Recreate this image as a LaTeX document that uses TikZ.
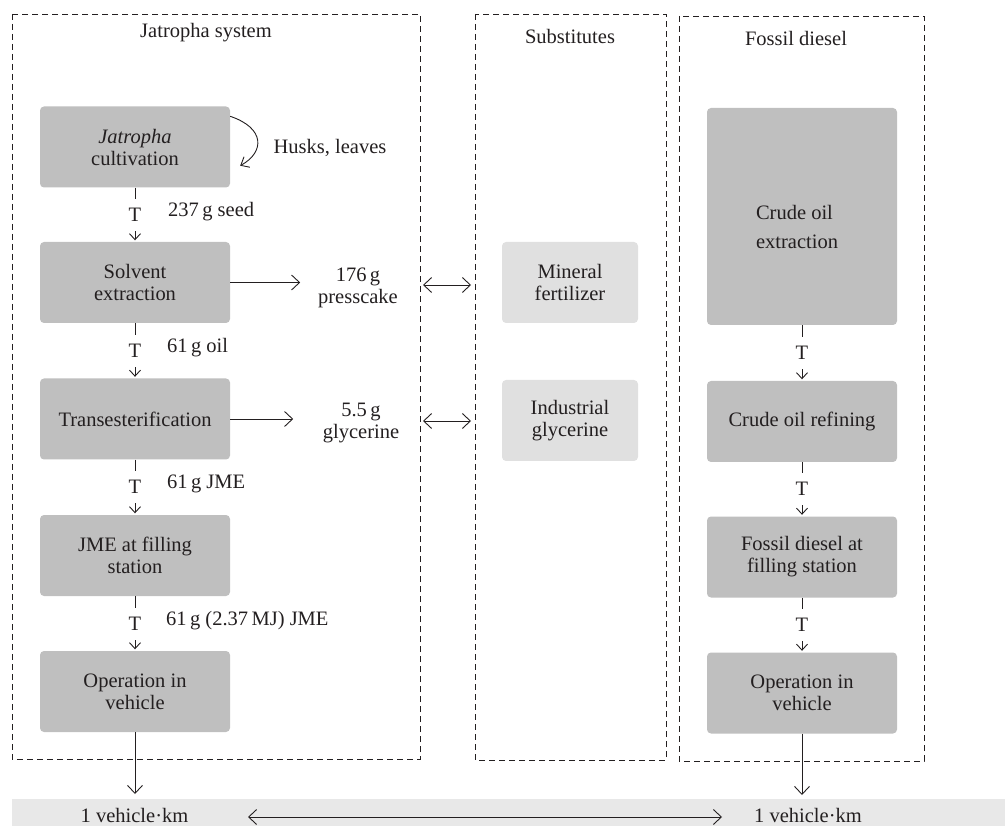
\documentclass[tikz,border=0pt]{standalone}
\usepackage{fontspec}
\setmainfont{Liberation Serif}
\usetikzlibrary{arrows.meta}
\definecolor{boxgray}{RGB}{191,191,191}
\definecolor{lightbox}{RGB}{224,224,224}
\definecolor{bandgray}{RGB}{232,232,232}
\definecolor{ink}{RGB}{35,31,32}
\begin{document}
\begin{tikzpicture}[x=1pt,y=-1pt,
  font=\fontsize{20.5}{22}\selectfont,
  every node/.style={text=ink},
  procbox/.style={fill=boxgray,rounded corners=4pt,minimum width=190pt,minimum height=81pt,align=center,inner sep=2pt},
  subbox/.style={fill=lightbox,rounded corners=4pt,minimum width=136pt,minimum height=81pt,align=center,inner sep=2pt},
  frame/.style={draw=ink,line width=0.9pt,dash pattern=on 6pt off 4pt},
  tflow/.style={draw=ink,line width=0.9pt,-{Straight Barb[length=6pt,width=11pt,line width=0.9pt]},shorten >=1.5pt},
  tlab/.style={fill=white,inner sep=0pt,minimum height=32pt,minimum width=14pt},
  bigarrow/.style={draw=ink,line width=0.9pt,-{Straight Barb[length=8pt,width=15pt,line width=0.9pt]}},
  dblarrow/.style={draw=ink,line width=0.9pt,{Straight Barb[length=8pt,width=15pt,line width=0.9pt]}-{Straight Barb[length=8pt,width=15pt,line width=0.9pt]}},
  flowlab/.style={anchor=west,inner sep=0pt}
]
\useasboundingbox (0,0) rectangle (1005,826);
% bottom band
\fill[bandgray] (12,799) rectangle (1005,826);
% dashed frames
\draw[frame] (12,14) rectangle (420,759);
\draw[frame] (475,14) rectangle (666,760);
\draw[frame] (679,16) rectangle (924,761);
% titles
\node (t1) at (206,33) {Jatropha system};
\node (t2) at (570,36) {Substitutes};
\node (t3) at (796,38) {Fossil diesel};
% Jatropha column
\node[procbox] (cult) at (135,147) {\textit{Jatropha}\\cultivation};
\node[procbox] (solv) at (135,282.5) {Solvent\\extraction};
\node[procbox] (trans) at (135,419) {Transesterification};
\node[procbox] (jme) at (135,555.5) {JME at filling\\station};
\node[procbox] (op1) at (135,691.5) {Operation in\\vehicle};
% substitutes
\node[subbox] (minf) at (570,282.5) {Mineral\\fertilizer};
\node[subbox] (indg) at (570,420.5) {Industrial\\glycerine};
% fossil column
\node[procbox,minimum height=217pt] (ext) at (802,216.5) {};
\node[align=left,inner sep=0pt] (extT) at ([xshift=-5pt,yshift=-10pt]ext.center) {Crude oil\\[7pt]extraction};
\node[procbox] (ref) at (802,421.5) {Crude oil refining};
\node[procbox] (fil) at (802,557) {Fossil diesel at\\filling station};
\node[procbox] (op2) at (802,693) {Operation in\\vehicle};
% T flows
\draw[tflow] (cult.south) -- node[tlab] (tA) {T} (solv.north);
\draw[tflow] (solv.south) -- node[tlab] (tB) {T} (trans.north);
\draw[tflow] (trans.south) -- node[tlab] (tC) {T} (jme.north);
\draw[tflow] (jme.south) -- node[tlab] (tD) {T} (op1.north);
\draw[tflow] (ext.south) -- node[tlab] (tE) {T} (ref.north);
\draw[tflow] (ref.south) -- node[tlab] (tF) {T} (fil.north);
\draw[tflow] (fil.south) -- node[tlab] (tG) {T} (op2.north);
% flow labels
\node[flowlab] (l1) at (168,212) {237\,g seed};
\node[flowlab] (l2) at (167,348) {61\,g oil};
\node[flowlab] (l3) at (167,484) {61\,g JME};
\node[flowlab] (l4) at (166,621) {61\,g (2.37\,MJ) JME};
% husks loop
\coordinate (hs) at ([yshift=-10pt]cult.north east);
\coordinate (he) at ([xshift=10pt,yshift=22pt]cult.south east);
\draw[draw=ink,line width=0.9pt,-{Straight Barb[length=7pt,width=12pt,line width=0.9pt]}] (hs) .. controls (265,128) and (265,152) .. (he);
\node (husk) at (330,148) {Husks, leaves};
% co-products
\node[align=center,inner sep=0pt] (pc) at (358,288) {176\,g\\presscake};
\node[align=center,inner sep=0pt] (gl) at (361,423) {5.5\,g\\glycerine};
\draw[bigarrow] (solv.east) -- ([xshift=70pt]solv.east);
\draw[bigarrow] (trans.east) -- ([xshift=63pt]trans.east);
\coordinate (d1a) at (423,285);
\coordinate (d1b) at (471,285);
\coordinate (d2a) at (423,421);
\coordinate (d2b) at (471,421);
\draw[dblarrow] (d1a) -- (d1b);
\draw[dblarrow] (d2a) -- (d2b);
% functional unit
\node (v1) at (134.5,815) {1 vehicle·km};
\node (v2) at (808,815) {1 vehicle·km};
\coordinate (b1) at (135,794);
\coordinate (b2) at (802,795);
\draw[bigarrow] (op1.south) -- (b1);
\draw[bigarrow] (op2.south) -- (b2);
\coordinate (m1) at (248,817);
\coordinate (m2) at (722,817);
\draw[dblarrow] (m1) -- (m2);
\end{tikzpicture}
\end{document}
